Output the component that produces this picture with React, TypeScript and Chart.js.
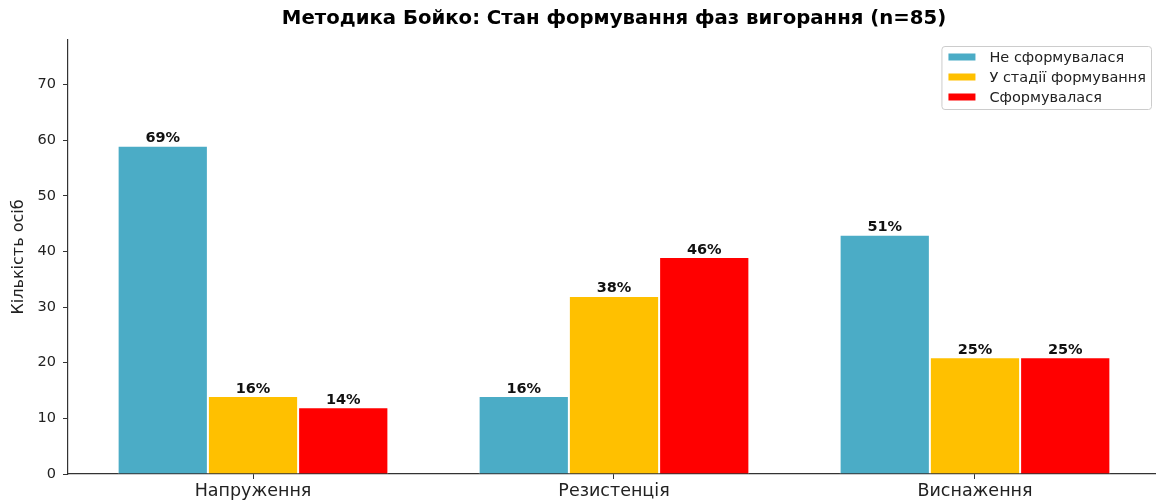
import { useEffect, useRef } from 'react';
import { Chart, registerables } from 'chart.js';

Chart.register(...registerables);

const categories = ['Напруження', 'Резистенція', 'Виснаження'];
const seriesNames = ['Не сформувалася', 'У стадії формування', 'Сформувалася'];
const notFormed = [59, 14, 43];
const forming = [14, 32, 21];
const formed = [12, 39, 21];
const totalN = 85;
const yTicks = [0, 10, 20, 30, 40, 50, 60, 70];
const yMax = 78;
const colors = ['#4BACC6', '#FFC000', '#FF0000'];
const titleText = 'Методика Бойко: Стан формування фаз вигорання (n=85)';
const yTitle = 'Кількість осіб';

const FONT = '"DejaVu Sans", Verdana, sans-serif';
const CANVAS_W = 1175;
const CANVAS_H = 502;

const titlePlugin = {
  id: 'mplTitle',
  afterDraw(chart: any) {
    const { ctx, chartArea } = chart;
    ctx.save();
    ctx.font = `bold 19.7px ${FONT}`;
    ctx.fillStyle = '#000';
    ctx.textAlign = 'center';
    ctx.textBaseline = 'middle';
    ctx.fillText(titleText, (chartArea.left + chartArea.right) / 2, 19);
    ctx.restore();
  },
};

const valueLabelPlugin = {
  id: 'valueLabels',
  afterDatasetsDraw(chart: any) {
    const { ctx } = chart;
    ctx.save();
    ctx.font = `bold 14.5px ${FONT}`;
    ctx.fillStyle = '#111';
    ctx.textAlign = 'center';
    ctx.textBaseline = 'bottom';
    chart.data.datasets.forEach((ds: any, di: number) => {
      const meta = chart.getDatasetMeta(di);
      meta.data.forEach((el: any, i: number) => {
        const v = ds.data[i].y;
        const pct = Math.round((v / totalN) * 100) + '%';
        ctx.fillText(pct, el.x, el.y);
      });
    });
    ctx.restore();
  },
};

const legendPlugin = {
  id: 'mplLegend',
  afterDraw(chart: any) {
    const { ctx, chartArea } = chart;
    ctx.save();
    ctx.font = `14.5px ${FONT}`;
    const maxW = Math.max(...seriesNames.map((s) => ctx.measureText(s).width));
    const padL = 7;
    const patchW = 27;
    const gap = 14;
    const padR = 5;
    const w = padL + patchW + gap + maxW + padR;
    const h = 63;
    const right = 1151;
    const left = right - w;
    const top = chartArea.top + 6;
    ctx.beginPath();
    ctx.roundRect(left + 0.5, top + 0.5, w, h, 3);
    ctx.fillStyle = 'rgba(255,255,255,0.85)';
    ctx.fill();
    ctx.strokeStyle = '#cccccc';
    ctx.lineWidth = 1;
    ctx.stroke();
    seriesNames.forEach((name, i) => {
      const cy = top + 11 + i * 20;
      ctx.fillStyle = colors[i];
      ctx.fillRect(left + padL, cy - 3.5, patchW, 7);
      ctx.fillStyle = '#222';
      ctx.textAlign = 'left';
      ctx.textBaseline = 'middle';
      ctx.fillText(name, left + padL + patchW + gap, cy + 1);
    });
    ctx.restore();
  },
};

export default function App() {
  const ref = useRef<HTMLCanvasElement | null>(null);

  useEffect(() => {
    const canvas = ref.current;
    if (!canvas) return;
    const series = [notFormed, forming, formed];
    const chart = new Chart(canvas, {
      type: 'bar',
      data: {
        datasets: series.map((vals, si) => ({
          label: seriesNames[si],
          data: vals.map((v, i) => ({ x: i, y: v })),
          backgroundColor: colors[si],
          borderColor: '#ffffff',
          borderWidth: 1,
          categoryPercentage: 0.75,
          barPercentage: 1.0,
        })),
      },
      plugins: [titlePlugin, valueLabelPlugin, legendPlugin],
      options: {
        responsive: false,
        devicePixelRatio: 1,
        animation: false,
        layout: { padding: { top: 40, left: 0, right: CANVAS_W - 1160, bottom: 0 } },
        plugins: {
          legend: { display: false },
          title: { display: false },
          tooltip: { enabled: false },
        },
        scales: {
          x: {
            type: 'linear',
            offset: false,
            min: -0.5125,
            max: 2.5125,
            afterBuildTicks: (scale: any) => {
              scale.ticks = categories.map((_, i) => ({ value: i }));
            },
            afterFit: (scale: any) => {
              scale.height = CANVAS_H - 474;
            },
            grid: {
              display: true,
              offset: false,
              drawOnChartArea: false,
              drawTicks: true,
              tickLength: 5,
              color: '#333',
            },
            border: { display: true, color: '#333', width: 1.2 },
            ticks: {
              padding: 2,
              color: '#222',
              font: { family: FONT, size: 17.5 },
              callback: (v: any) => categories[Math.round(v)] ?? '',
            },
          },
          y: {
            type: 'linear',
            min: 0,
            max: yMax,
            afterBuildTicks: (scale: any) => {
              scale.ticks = yTicks.map((v) => ({ value: v }));
            },
            afterFit: (scale: any) => {
              scale.width = 68;
            },
            grid: { display: true, drawOnChartArea: false, drawTicks: true, tickLength: 5, color: '#333' },
            border: { display: true, color: '#333', width: 1.2 },
            ticks: {
              padding: 7,
              color: '#222',
              font: { family: FONT, size: 14.5 },
            },
            title: {
              display: true,
              text: yTitle,
              color: '#222',
              font: { family: FONT, size: 16 },
              padding: { top: 9, bottom: 0 },
            },
          },
        },
      },
    });
    return () => chart.destroy();
  }, []);

  return (
    <div
      style={{
        position: 'fixed',
        left: 0,
        top: 0,
        width: 1156,
        height: 502,
        overflow: 'hidden',
        background: '#fff',
      }}
    >
      <canvas ref={ref} width={CANVAS_W} height={CANVAS_H} style={{ display: 'block' }} />
    </div>
  );
}
